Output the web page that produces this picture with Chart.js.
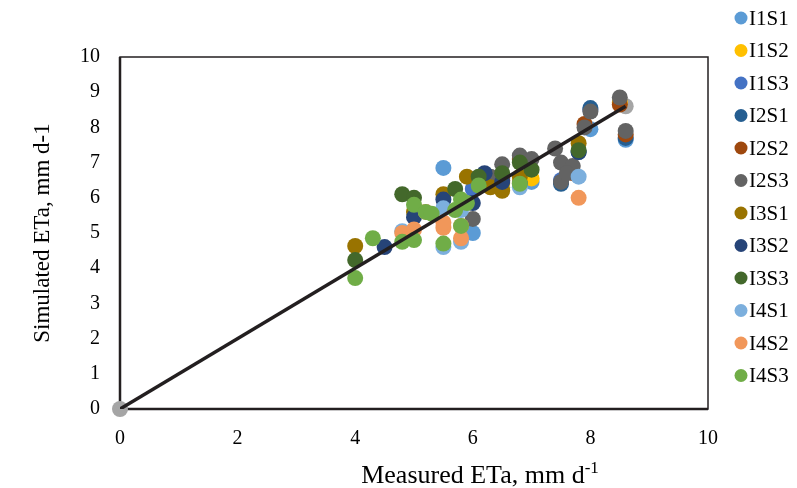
<!DOCTYPE html>
<html>
<head>
<meta charset="utf-8">
<script src="https://cdn.jsdelivr.net/npm/chart.js@4.4.1/dist/chart.umd.min.js"></script>
<style>
  body { margin: 0; background: #fff; }
  #wrap { width: 797px; height: 488px; }
</style>
</head>
<body>
<div id="wrap"><canvas id="chart" width="797" height="488"></canvas></div>
<script>
// series values [measured, simulated]
const I1S1 = [[5.5, 6.85], [6.0, 5.0], [6.5, 6.3], [7.0, 6.45], [7.5, 6.45], [8.0, 7.95], [8.6, 7.65]];
const I1S2 = [[7.0, 6.55], [6.8, 6.45], [6.5, 6.4], [8.5, 8.7]];
const I1S3 = [[6.0, 6.25], [6.5, 6.55], [7.5, 6.5], [8.0, 8.5], [5.5, 5.7]];
const I2S1 = [[6.3, 6.55], [7.5, 6.4], [8.0, 8.55], [8.6, 7.7], [7.8, 7.3], [6.8, 6.4]];
const I2S2 = [[6.5, 6.5], [7.7, 6.7], [7.9, 8.1], [8.5, 8.65], [8.6, 7.8], [6.8, 7.1]];
const I2S3 = [[6.0, 5.4], [6.5, 6.95], [6.8, 7.2], [7.0, 7.1], [7.4, 7.4], [7.5, 7.0], [7.7, 6.9],
              [7.5, 6.45], [7.9, 8.0], [8.0, 8.45], [8.5, 8.85], [8.6, 7.9], [6.3, 6.6], [7.6, 6.7]];
const I3S1 = [[4.0, 4.63], [5.0, 5.6], [5.5, 6.1], [5.9, 6.6], [6.3, 6.3], [6.5, 6.2], [7.8, 7.55], [6.8, 6.6]];
const I3S2 = [[4.5, 4.6], [5.0, 5.45], [5.5, 5.95], [6.0, 5.85], [6.2, 6.7], [6.5, 6.45], [7.8, 7.3]];
const I3S3 = [[4.0, 4.23], [4.8, 6.1], [5.0, 6.0], [5.7, 6.25], [6.1, 6.6], [6.5, 6.7], [6.8, 7.0], [7.0, 6.8], [7.8, 7.35]];
const I4S1 = [[4.8, 5.05], [5.5, 4.6], [5.5, 5.7], [5.8, 4.75], [5.8, 5.65], [6.8, 6.3], [7.8, 6.6]];
const I4S2 = [[4.8, 5.0], [5.0, 5.1], [5.5, 5.15], [5.5, 5.3], [5.8, 4.85], [5.8, 5.2], [7.8, 6.0], [5.2, 5.6]];
const I4S3 = [[4.0, 3.72], [4.3, 4.85], [4.8, 4.75], [5.0, 4.8], [5.0, 5.8], [5.2, 5.6], [5.3, 5.55], [5.5, 4.7],
              [5.8, 5.2], [5.8, 5.95], [5.9, 5.85], [6.1, 6.35], [6.8, 6.4], [5.7, 5.65]];

// 1:1 line
const lineX = [0, 8.6];
const lineY = [0, 8.6];

const seriesNames = ['I1S1', 'I1S2', 'I1S3', 'I2S1', 'I2S2', 'I2S3', 'I3S1', 'I3S2', 'I3S3', 'I4S1', 'I4S2', 'I4S3'];
const seriesData = [I1S1, I1S2, I1S3, I2S1, I2S2, I2S3, I3S1, I3S2, I3S3, I4S1, I4S2, I4S3];
const colors = ['#5B9BD5', '#FFC000', '#4472C4', '#255E91', '#9E480E', '#636363',
                '#997300', '#264478', '#43682B', '#7CAFDD', '#F1975A', '#70AD47'];

const xTicks = [0, 2, 4, 6, 8, 10];
const yTicks = [0, 1, 2, 3, 4, 5, 6, 7, 8, 9, 10];

const serif = "'Liberation Serif', 'Times New Roman', serif";

let datasets = seriesNames.map((name, i) => ({
    type: 'scatter',
    label: name,
    data: seriesData[i].map(p => ({ x: p[0], y: p[1] })),
    backgroundColor: colors[i],
    borderWidth: 0,
    pointRadius: 8,
    order: 20 - i
}));

let linePts = lineX.map((x, i) => ({ x: x, y: lineY[i] }));
datasets.push({
    type: 'scatter',
    label: 'ends',
    data: linePts,
    backgroundColor: '#A5A5A5',
    borderWidth: 0,
    pointRadius: 8,
    clip: false,
    order: 30
});
datasets.push({
    type: 'line',
    label: 'fit',
    data: linePts,
    borderColor: '#231F20',
    borderWidth: 3.5,
    pointRadius: 0,
    fill: false,
    order: 0
});

// plot frame
const framePlugin = {
    id: 'frame',
    beforeDatasetsDraw(chart) {
        const a = chart.chartArea, c = chart.ctx;
        c.save();
        c.strokeStyle = '#231F20';
        c.lineWidth = 1.5;
        c.strokeRect(a.left, a.top, a.right - a.left, a.bottom - a.top);
        c.lineWidth = 2.5;
        c.beginPath();
        c.moveTo(a.left, a.top);
        c.lineTo(a.left, a.bottom);
        c.lineTo(a.right, a.bottom);
        c.stroke();
        c.restore();
    }
};

// legend on the right + x title with superscript
const legendPlugin = {
    id: 'sideLegend',
    afterDraw(chart) {
        const c = chart.ctx;
        c.save();
        c.font = '21px ' + serif;
        c.textBaseline = 'middle';
        c.textAlign = 'left';
        seriesNames.forEach((name, i) => {
            const y = 18 + i * 32.5;
            c.fillStyle = colors[i];
            c.beginPath();
            c.arc(741, y, 6.5, 0, Math.PI * 2);
            c.fill();
            c.fillStyle = '#000';
            c.fillText(name, 749, y + 1);
        });

        // x axis title
        const main = 'Measured ETa, mm d', sup = '-1';
        c.textBaseline = 'alphabetic';
        c.font = '26px ' + serif;
        const w1 = c.measureText(main).width;
        c.font = '17px ' + serif;
        const w2 = c.measureText(sup).width;
        let x0 = 480 - (w1 + w2) / 2;
        c.fillStyle = '#000';
        c.font = '26px ' + serif;
        c.fillText(main, x0, 483);
        c.font = '17px ' + serif;
        c.fillText(sup, x0 + w1, 473);
        c.restore();
    }
};

new Chart(document.getElementById('chart'), {
    data: { datasets: datasets },
    options: {
        responsive: false,
        animation: false,
        layout: { padding: { left: 0, top: 57, right: 89, bottom: 0 } },
        plugins: {
            legend: { display: false },
            tooltip: { enabled: false }
        },
        scales: {
            x: {
                type: 'linear',
                min: 0,
                max: 10,
                afterFit(s) { s.height = 79; },
                afterBuildTicks(s) { s.ticks = xTicks.map(v => ({ value: v })); },
                grid: { display: false, drawTicks: false },
                border: { display: false },
                ticks: { color: '#000', padding: 18, font: { family: serif, size: 20 } },
                title: { display: false }
            },
            y: {
                type: 'linear',
                min: 0,
                max: 10,
                afterFit(s) { s.width = 120; },
                afterBuildTicks(s) { s.ticks = yTicks.map(v => ({ value: v })); },
                grid: { display: false, drawTicks: false },
                border: { display: false },
                ticks: { color: '#000', padding: 20, font: { family: serif, size: 20 } },
                title: {
                    display: true,
                    text: 'Simulated ETa, mm d-1',
                    color: '#000',
                    font: { family: serif, size: 23 },
                    padding: { top: 29, bottom: 0 }
                }
            }
        }
    },
    plugins: [framePlugin, legendPlugin]
});
</script>
</body>
</html>
